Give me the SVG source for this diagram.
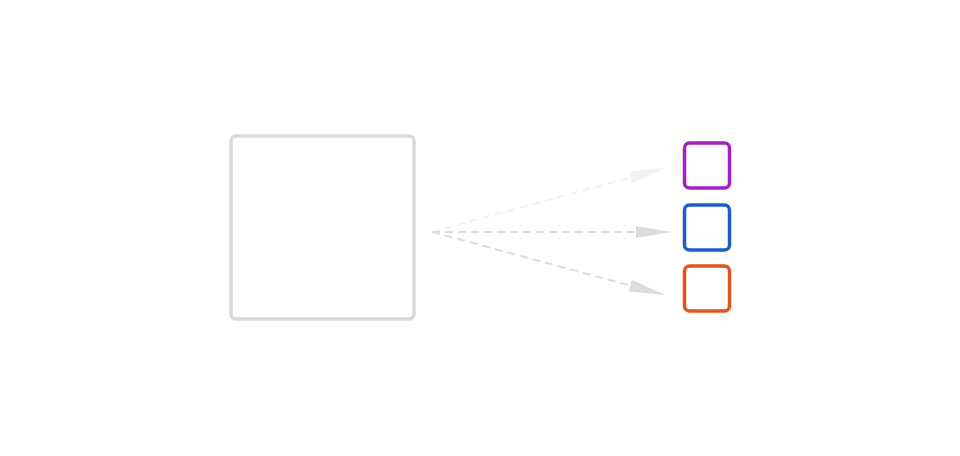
<svg xmlns="http://www.w3.org/2000/svg" width="960" height="456" viewBox="0 0 960 456">
<style>
.edge{fill:none;stroke-width:2;stroke-dasharray:8 5}
.box{fill:#ffffff;stroke-width:3.5}
</style>
<rect width="960" height="456" fill="#ffffff"/>
<g id="connectors">
<path class="edge" stroke="#f2f2f2" d="M432,232 L630.3,177.5"/>
<polygon fill="#f2f2f2" points="665,168 631.9,183.3 628.7,171.7"/>
<path class="edge" stroke="#dcdcdc" d="M432,232 L636,232"/>
<polygon fill="#dcdcdc" points="672,232 636,226 636,238"/>
<path class="edge" stroke="#dcdcdc" d="M432,232 L630.3,285.6"/>
<polygon fill="#dcdcdc" points="665,295 628.7,291.4 631.9,279.8"/>
</g>
<g id="source"><rect class="box" x="231" y="136" width="183" height="183" rx="5" stroke="#d9d9d9"/></g>
<g id="target-purple"><rect class="box" x="684.5" y="143" width="45" height="45" rx="5" stroke="#a21fc6"/></g>
<g id="target-blue"><rect class="box" x="684.5" y="205" width="45" height="45" rx="5" stroke="#1f5bc6"/></g>
<g id="target-orange"><rect class="box" x="684.5" y="266" width="45" height="45" rx="5" stroke="#e0561a"/></g>
</svg>
